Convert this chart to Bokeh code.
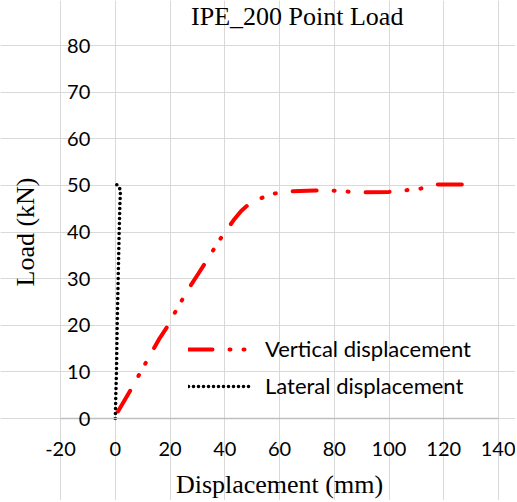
from bokeh.plotting import figure
from bokeh.models import LinearAxis, FixedTicker, Range1d, Legend, LegendItem, Grid
from bokeh.embed import file_html
from bokeh.resources import INLINE

# ---- data ----
vertical_disp = [1.0, 5.9, 9.2, 16.2, 18.8, 22.8, 27.5, 30.4, 35.1, 37.4, 40.3, 43.2,
                 46.0, 48.7, 53.0, 57.8, 63.0, 73.0, 79.0, 84.0, 89.6, 99.9, 105.4,
                 111.5, 117.0, 127.3, 132.0]
vertical_load = [1.5, 6.4, 9.9, 17.2, 19.5, 23.8, 28.5, 31.1, 35.4, 37.7, 40.1, 42.5,
                 44.5, 45.9, 47.2, 48.2, 48.7, 48.9, 48.9, 48.7, 48.5, 48.6, 48.9,
                 49.3, 50.2, 50.2, 50.0]

lateral_disp = [0.0, 0.1, 0.2, 0.45, 0.7, 1.07, 1.43, 1.7, 1.9, 1.5, 0.45]
lateral_load = [0.0, 2.0, 5.0, 10.0, 20.0, 30.0, 40.0, 46.0, 48.7, 49.6, 50.2]

x_ticks = [-20, 0, 20, 40, 60, 80, 100, 120, 140]
x_tick_labels = ["-20", "0", "20", "40", "60", "80", "100", "120", "140"]
y_ticks = [0, 10, 20, 30, 40, 50, 60, 70, 80]

title_text = "IPE_200  Point Load"
x_label = "Displacement (mm)"
y_label = "Load (kN)"
series_names = ["Vertical displacement", "Lateral displacement"]

TICK_FONT = "Lato"
SERIF = "Liberation Serif"

# ---- layout: the frame covers the whole canvas; the plotted area sits inside ----
W, H = 515, 500
PX_LEFT, PX_RIGHT = 60, 498      # pixel of x=-20 and x=140
PX_BOTTOM, PX_TOP = 418, 45      # pixel of y=0 and y=80
x_min, x_max = x_ticks[0], x_ticks[-1]
y_min, y_max = y_ticks[0], y_ticks[-1]
xpp = (x_max - x_min) / (PX_RIGHT - PX_LEFT)
ypp = (y_max - y_min) / (PX_BOTTOM - PX_TOP)
x_range = Range1d(x_min - PX_LEFT * xpp, x_max + (W - PX_RIGHT) * xpp)
y_range = Range1d(y_min - (H - PX_BOTTOM) * ypp, y_max + PX_TOP * ypp)

p = figure(width=W, height=H, x_range=x_range, y_range=y_range,
           output_backend="svg", toolbar_location=None,
           x_axis_location=None, y_axis_location=None,
           min_border_left=0, min_border_right=0, min_border_top=0, min_border_bottom=0)
p.outline_line_color = None
p.background_fill_color = "white"
p.border_fill_color = "white"

# grids limited to the plot area
p.add_layout(Grid(dimension=0, ticker=FixedTicker(ticks=x_ticks), bounds=(y_min, y_max),
                  grid_line_color="#d9d9d9", grid_line_width=1))
p.add_layout(Grid(dimension=1, ticker=FixedTicker(ticks=y_ticks), bounds=(x_min, x_max),
                  grid_line_color="#d9d9d9", grid_line_width=1))

NOTICKS = dict(major_tick_out=0, major_tick_in=0, minor_tick_out=0, minor_tick_in=0)

# x axis along y = 0
xa = LinearAxis(fixed_location=0, bounds=(x_min, x_max), ticker=FixedTicker(ticks=x_ticks),
                major_label_overrides={t: s for t, s in zip(x_ticks, x_tick_labels)},
                axis_label=x_label, axis_line_color="#bfbfbf", axis_line_width=1.5,
                major_label_standoff=23,
                major_label_text_font=TICK_FONT, major_label_text_font_size="20px",
                major_label_text_color="black",
                axis_label_text_font=SERIF, axis_label_text_font_size="26px",
                axis_label_text_font_style="normal", axis_label_text_color="black",
                axis_label_standoff=11, **NOTICKS)
p.add_layout(xa, "below")

# y tick labels, axis crossing at x = 0
ya = LinearAxis(fixed_location=0, bounds=(y_min, y_max), ticker=FixedTicker(ticks=y_ticks),
                axis_line_alpha=0, major_label_standoff=25,
                major_label_text_font=TICK_FONT, major_label_text_font_size="20px",
                major_label_text_color="black", **NOTICKS)
p.add_layout(ya, "left")

# y axis title at the left edge of the plot area
ya_title = LinearAxis(fixed_location=x_min, bounds=(y_min, y_max), ticker=FixedTicker(ticks=[]),
                      axis_label=y_label, axis_line_alpha=0,
                      axis_label_text_font=SERIF, axis_label_text_font_size="26px",
                      axis_label_text_font_style="normal", axis_label_text_color="black",
                      axis_label_standoff=21, **NOTICKS)
p.add_layout(ya_title, "left")

# chart title above the plot area (centred at pixel x = 300)
title_cx = x_min + (300 - PX_LEFT) * xpp
title_axis = LinearAxis(fixed_location=y_max, bounds=(2 * title_cx - x_max, x_max),
                        ticker=FixedTicker(ticks=[]), axis_label=title_text, axis_line_alpha=0,
                        axis_label_text_font=SERIF, axis_label_text_font_size="26px",
                        axis_label_text_font_style="normal", axis_label_text_color="black",
                        axis_label_standoff=15, **NOTICKS)
p.add_layout(title_axis, "above")

r1 = p.line(vertical_disp, vertical_load, line_color="#ff0000", line_width=4,
            line_dash="24 17 1 13 1 17", line_cap="round", line_join="round")
r2 = p.line(lateral_disp, lateral_load, line_color="black", line_width=3.6,
            line_dash="0 5", line_cap="round", line_join="round")

legend = Legend(items=[LegendItem(label=series_names[0], renderers=[r1]),
                       LegendItem(label=series_names[1], renderers=[r2])],
                location=(188, 101), padding=0, margin=0, spacing=10,
                glyph_width=65, glyph_height=24, label_height=24, label_standoff=12,
                background_fill_alpha=0, border_line_alpha=0,
                label_text_font=TICK_FONT, label_text_font_size="22px",
                label_text_color="black")
p.add_layout(legend)

open("out.html", "w").write(file_html(p, INLINE))
